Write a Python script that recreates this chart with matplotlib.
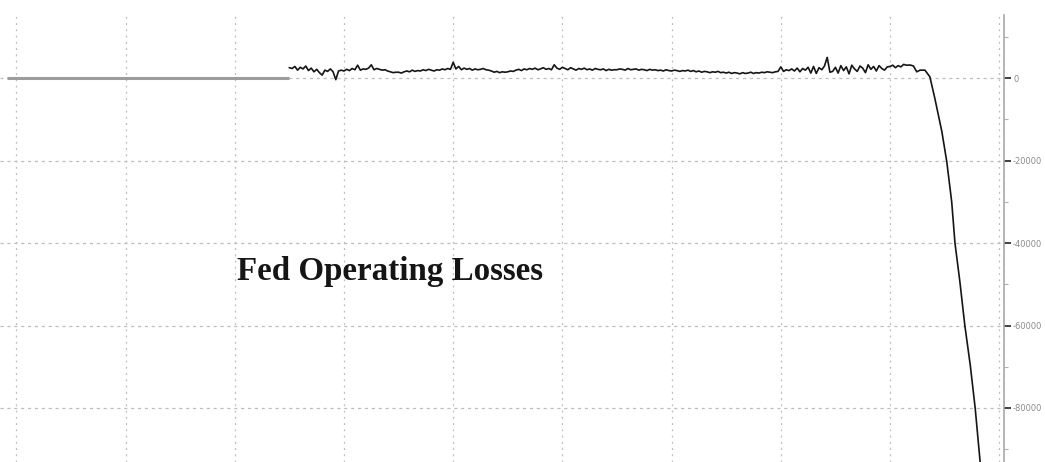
import numpy as np
import matplotlib
matplotlib.use("Agg")
import matplotlib.pyplot as plt
from matplotlib.ticker import MultipleLocator, FixedLocator

# ---- data (values in $ millions) ----
flat_years = [2005.83, 2011.0]
flat_values = [0, 0]

# weekly-ish readings, one every 0.05 year from 2011.00
start_year = 2011.0
step_year = 0.05
v2011 = [2500, 2300, 2800, 1900, 2600, 2200, 2900, 1800, 2400, 1500,
         2100, 1300, 700, 1900, 1600, 2200, 1500, -400, 1700, 1900]
v2012 = [1700, 2100, 1800, 2300, 2000, 3100, 1900, 2200, 2100, 2400,
         3200, 2000, 2300, 2100, 1900, 2000, 1700, 1500, 1300, 1400]
v2013 = [1400, 1200, 1500, 1700, 1500, 1900, 1600, 1800, 1700, 2000,
         1800, 2100, 1900, 1700, 2000, 1900, 2200, 2000, 2300, 2100]
v2014 = [3800, 2200, 2800, 2000, 2400, 2100, 2300, 1900, 2200, 2000,
         2100, 2300, 2000, 1900, 1700, 1400, 1600, 1300, 1500, 1400]
v2015 = [1500, 1700, 1600, 1900, 2100, 1800, 2200, 2000, 2300, 2100,
         2400, 2000, 2200, 2500, 2100, 2300, 2000, 3200, 2400, 2100]
v2016 = [2600, 2300, 2000, 2500, 2200, 1900, 2300, 2100, 2400, 2000,
         2200, 1900, 2300, 2100, 2000, 2200, 1800, 2100, 1900, 2000]
v2017 = [2000, 2200, 2100, 1900, 2300, 2000, 2100, 2200, 1900, 2100,
         2000, 1800, 2100, 1900, 2000, 1800, 1900, 1700, 2000, 1800]
v2018 = [1700, 1900, 1800, 1600, 1800, 1700, 1900, 1600, 1800, 1500,
         1700, 1400, 1600, 1500, 1300, 1500, 1400, 1600, 1300, 1400]
v2019 = [1200, 1400, 1100, 1300, 1200, 1000, 1300, 1100, 1200, 1400,
         1100, 1300, 1200, 1400, 1300, 1500, 1400, 1300, 1500, 1600]
v2020 = [2700, 1600, 2000, 1800, 2200, 1700, 2400, 1500, 2300, 1900,
         2600, 1200, 2800, 1100, 2500, 2000, 2900, 5000, 1400, 1600]
v2021 = [2600, 1200, 3000, 1800, 2700, 1000, 3100, 2200, 1600, 2900,
         2400, 1300, 3200, 2100, 2800, 1700, 3000, 2300, 1900, 2700]
v2022a = [2800, 3100, 2500, 3000, 2700, 3300]

# end of the series (irregular readings)
tail_years = [2022.30, 2022.37, 2022.43, 2022.49, 2022.55, 2022.64, 2022.73,
              2022.82, 2022.95, 2023.04, 2023.13, 2023.19, 2023.28, 2023.37,
              2023.47, 2023.56, 2023.65, 2023.72]
tail_values = [3100, 3150, 2900, 1500, 1900, 1900, 300,
               -4850, -13000, -20300, -30000, -40000, -49400, -59900,
               -69600, -80000, -93000, -102000]

title_text = "Fed Operating Losses"
y_major = [0, -20000, -40000, -60000, -80000]
y_labels = ["0", "-20000", "-40000", "-60000", "-80000"]
x_grid_years = [2006, 2008, 2010, 2012, 2014, 2016, 2018, 2020, 2022, 2024]

# ---- assemble ----
reg_values = v2011 + v2012 + v2013 + v2014 + v2015 + v2016 + v2017 + v2018 + v2019 + v2020 + v2021 + v2022a
reg_years = [start_year + step_year * i for i in range(len(reg_values))]
years = reg_years + tail_years
values = reg_values + tail_values

fig = plt.figure(figsize=(10.45, 4.62), dpi=100)
ax = fig.add_axes([0.0, 0.0, 1004 / 1045, 1 - 15 / 462])

ax.plot(flat_years, flat_values, color="#9c9c9c", lw=2.2, solid_capstyle="butt", zorder=3)
ax.plot(years, values, color="#151515", lw=1.2, zorder=4)

ax.set_xlim(2005.70, 2024.088)
ax.set_ylim(-93091, 15273)

for s in ["top", "left", "bottom"]:
    ax.spines[s].set_visible(False)
ax.spines["right"].set_color("#a8a8a8")
ax.spines["right"].set_linewidth(1.2)

ax.set_xticks(x_grid_years)
ax.tick_params(axis="x", length=0, labelbottom=False)

ax.yaxis.tick_right()
ax.yaxis.set_major_locator(FixedLocator(y_major))
ax.set_yticklabels(y_labels)
ax.yaxis.set_minor_locator(MultipleLocator(10000))
ax.tick_params(axis="y", which="major", direction="out", length=5, width=1.3,
               color="#333333", labelsize=6, labelcolor="#8a8a8a", pad=1.5)
ax.tick_params(axis="y", which="minor", direction="out", length=3, width=0.8,
               color="#b0b0b0")

ax.grid(axis="x", which="major", color="#bdbdbd", lw=0.9, linestyle=(0, (1.5, 3.5)))
ax.grid(axis="y", which="major", color="#bdbdbd", lw=0.9, linestyle=(0, (2.5, 3)))
ax.set_axisbelow(True)

ax.text(2010.04, -48970, title_text, fontsize=23.8, fontweight="bold",
        family=["Liberation Serif", "DejaVu Serif"], color="#151515",
        ha="left", va="baseline", zorder=5)

fig.savefig("out.png", dpi=100)
